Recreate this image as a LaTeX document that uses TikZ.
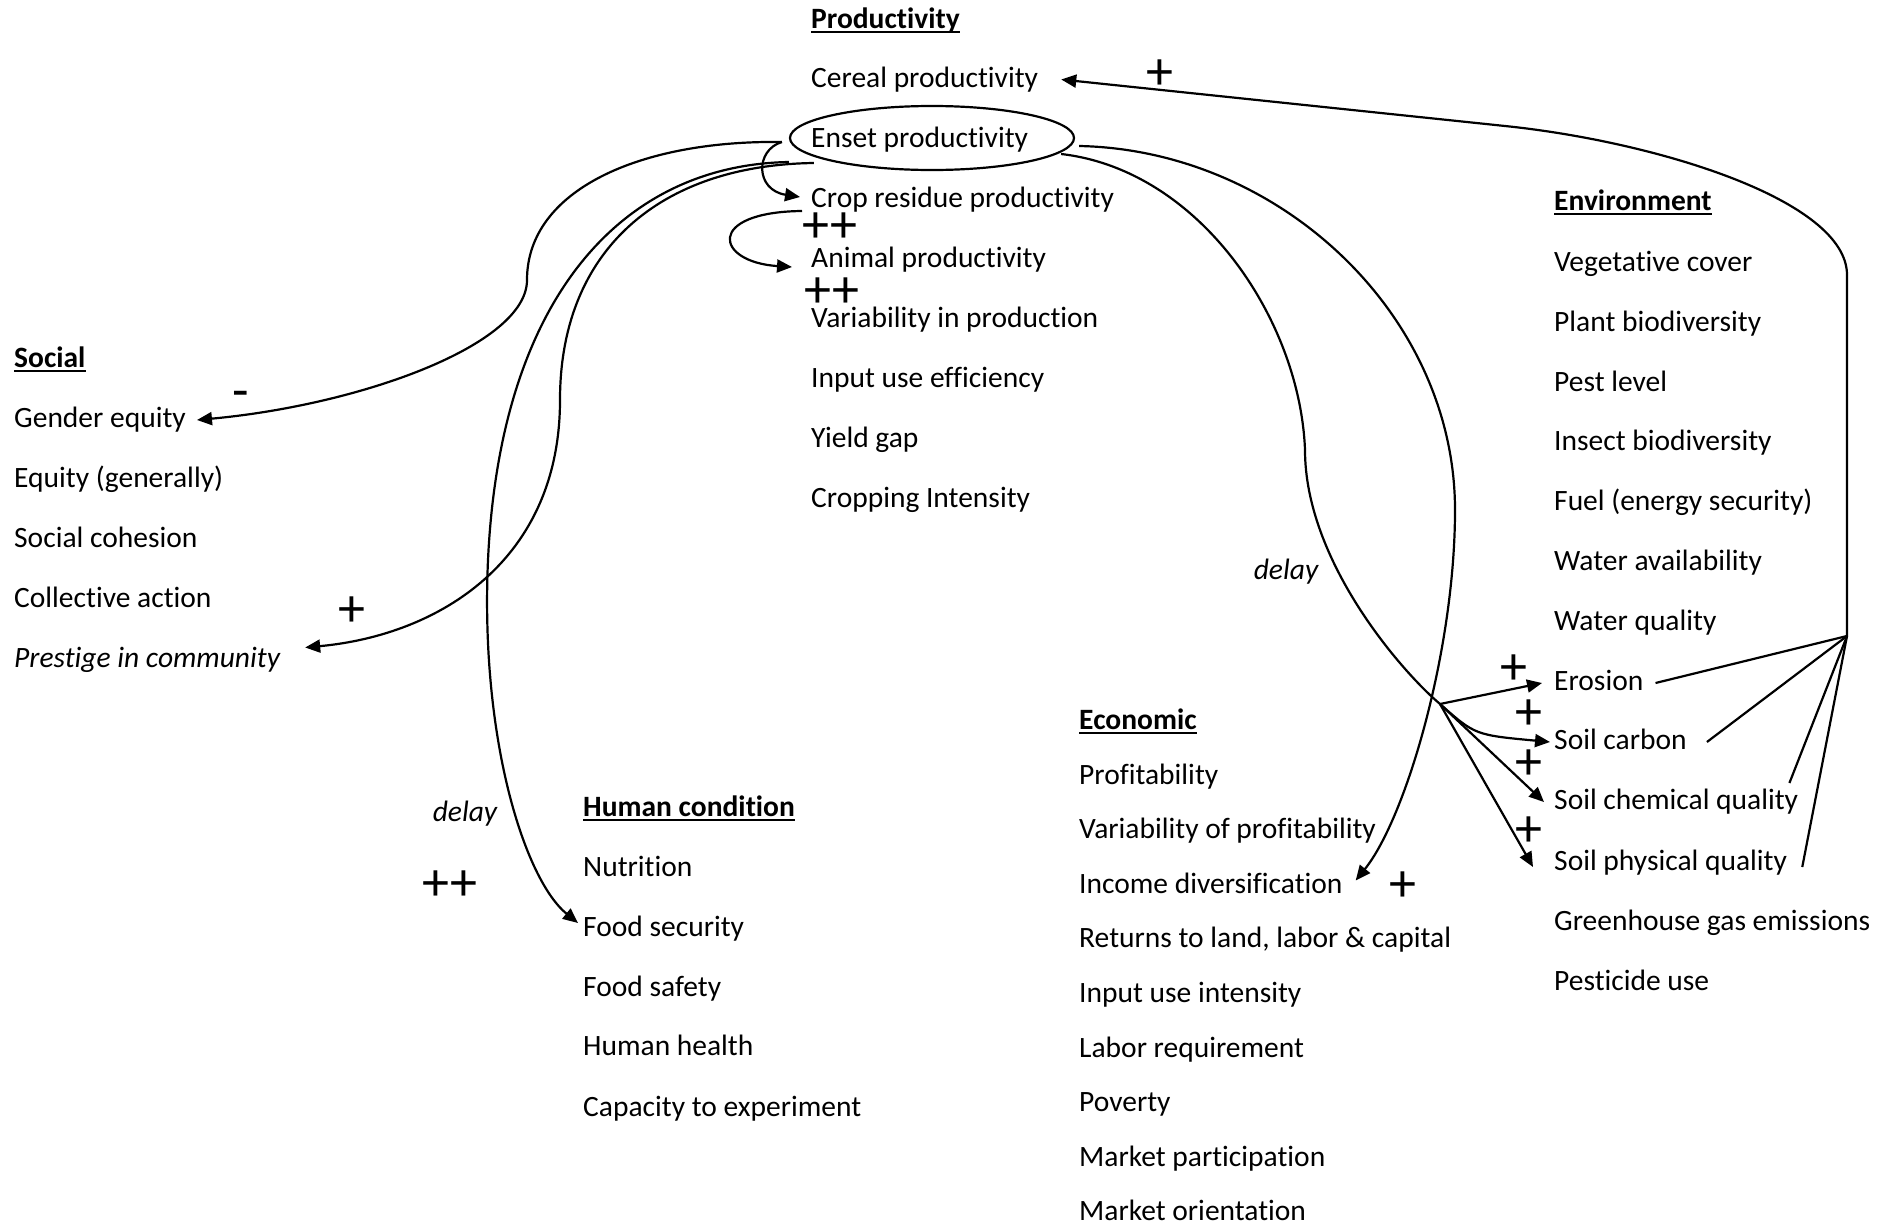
\documentclass[tikz,border=0pt]{standalone}
\usepackage{fontspec}
\setmainfont{Carlito}[Ligatures=NoCommon]
\usetikzlibrary{arrows.meta,shapes.geometric}
\begin{document}
\begin{tikzpicture}[x=1pt,y=-1pt,
  item/.style={anchor=base west, inner sep=0pt, text height=21pt, text depth=6pt, font=\fontsize{29.5}{35}\selectfont},
  hdr/.style={item, font=\fontsize{29.5}{35}\selectfont\bfseries},
  uline/.style={line width=2pt},
  sign/.style={inner sep=0pt, font=\fontsize{54}{54}\selectfont},
  lbl/.style={inner sep=0pt, font=\fontsize{29.5}{35}\selectfont\itshape},
  link/.style={line width=2.2pt},
  arr/.style={link, -{Triangle[length=15pt,width=13pt]}},
  ringshape/.style={ellipse, draw, line width=2.2pt, minimum width=284pt, minimum height=64pt, inner sep=0pt}
]
\fill[white] (0,0) rectangle (1890,1226);
\useasboundingbox (0,0) rectangle (1890,1226);

% ---------- Productivity ----------
\node[hdr] (hprod) at (811,28) {Productivity};
\node[item] (cereal) at (811,87) {Cereal productivity};
\node[item] (enset) at (811,147) {Enset productivity};
\node[item] (crop) at (811,207) {Crop residue productivity};
\node[item] (animal) at (811,267) {Animal productivity};
\node[item] (varprod) at (811,327) {Variability in production};
\node[item] (inpeff) at (811,387) {Input use efficiency};
\node[item] (yieldgap) at (811,447) {Yield gap};
\node[item] (cropint) at (811,507) {Cropping Intensity};
\node[ringshape] (ring) at (932,138) {};

% ---------- Social ----------
\node[hdr] (hsoc) at (14,367.5) {Social};
\node[item] (gender) at (14,427.5) {Gender equity};
\node[item] (equity) at (14,487.5) {Equity (generally)};
\node[item] (cohesion) at (14,547) {Social cohesion};
\node[item] (collect) at (14,607) {Collective action};
\node[item, font=\fontsize{29.5}{35}\selectfont\itshape] (prestige) at (14,667) {Prestige in community};

% ---------- Human condition ----------
\node[hdr] (hhum) at (583,816) {Human condition};
\node[item] (nutrition) at (583,876.5) {Nutrition};
\node[item] (foodsec) at (583,936.5) {Food security};
\node[item] (foodsafe) at (583,996.5) {Food safety};
\node[item] (health) at (583,1055.5) {Human health};
\node[item] (capacity) at (583,1116) {Capacity to experiment};

% ---------- Economic ----------
\node[hdr] (heco) at (1079,729) {Economic};
\node[item] (profit) at (1079,784.5) {Profitability};
\node[item] (varprofit) at (1079,838.5) {Variability of profitability};
\node[item] (incdiv) at (1079,893) {Income diversification};
\node[item] (returns) at (1079,947.5) {Returns to land, labor \& capital};
\node[item] (inpint) at (1079,1002.5) {Input use intensity};
\node[item] (labor) at (1079,1057) {Labor requirement};
\node[item] (poverty) at (1079,1111.5) {Poverty};
\node[item] (marketp) at (1079,1166.5) {Market participation};
\node[item] (marketo) at (1079,1220.5) {Market orientation};

% ---------- Environment ----------
\node[hdr] (henv) at (1554,210.5) {Environment};
\node[item] (veg) at (1554,271) {Vegetative cover};
\node[item] (plantbio) at (1554,331) {Plant biodiversity};
\node[item] (pest) at (1554,391) {Pest level};
\node[item] (insect) at (1554,450.5) {Insect biodiversity};
\node[item] (fuel) at (1554,510.5) {Fuel (energy security)};
\node[item] (wateravail) at (1554,570.5) {Water availability};
\node[item] (waterqual) at (1554,630.5) {Water quality};
\node[item] (erosion) at (1554,690.5) {Erosion};
\node[item] (soilc) at (1554,749.5) {Soil carbon};
\node[item] (soilchem) at (1554,809.5) {Soil chemical quality};
\node[item] (soilphys) at (1554,870) {Soil physical quality};
\node[item] (ghg) at (1554,930.5) {Greenhouse gas emissions};
\node[item] (pesticide) at (1554,990.5) {Pesticide use};

% ---------- underlines ----------
\foreach \h in {hprod,hsoc,hhum,heco,henv}
  \draw[uline] ([yshift=-3.5pt]\h.base west) -- ([yshift=-3.5pt]\h.base east);

% ---------- connectors ----------
\coordinate (hub) at (1847,636);
\coordinate (bend) at (1847,275);
\coordinate (fork) at (1440,704);

\draw[link] ([xshift=12pt]erosion.east) -- (hub);
\draw[link] ([xshift=20pt]soilc.east) -- (hub);
\draw[link] ([xshift=-9pt,yshift=19pt]soilchem.east) -- (hub);
\draw[link] ([xshift=15pt,yshift=-4.5pt]soilphys.east) -- (hub);
\draw[arr] (hub) -- (bend) .. controls (1847,200) and (1655,141.5) .. (1505,126) -- ([xshift=23pt]cereal.east);

\draw[arr] ([xshift=4pt,yshift=-8pt]ring.east) .. controls (1280,150) and (1455,315) .. (1455,510)
  .. controls (1455,650) and (1406,818) .. ([xshift=13pt,yshift=5pt]incdiv.east);

\draw[link] ([xshift=-14pt,yshift=-16pt]ring.east) .. controls (1200,170) and (1300,320) .. (1305,450)
  .. controls (1305,560) and (1400,670) .. (fork);
\draw[arr] (fork) -- ([xshift=-12pt]erosion.west);
\draw[arr] (fork) .. controls (1475,735) .. ([xshift=-4pt]soilc.west);
\draw[arr] (fork) -- ([xshift=-10pt]soilchem.west);
\draw[arr] (fork) -- ([xshift=-21pt,yshift=-4.5pt]soilphys.west);

\draw[arr] ([xshift=-7pt,yshift=-4pt]ring.west) .. controls (640,140) and (527,190) .. (527,280)
  .. controls (527,345) and (360,405) .. ([xshift=11pt]gender.east);
\draw[arr] ([xshift=-7pt,yshift=-4pt]ring.west) .. controls (755,150) and (755,190) .. ([xshift=-11pt,yshift=2.5pt]crop.west);
\draw[arr] ([xshift=-9pt,yshift=-11.5pt]crop.west) .. controls (705,212) and (715,262) .. ([xshift=-19pt,yshift=-7.5pt]animal.west);

\draw[arr] ([yshift=-24pt]ring.west) .. controls (620,165) and (500,300) .. (488,560)
  .. controls (480,740) and (525,880) .. ([xshift=-5pt,yshift=6pt]foodsec.west);
\draw[arr] ([xshift=25pt,yshift=-25pt]ring.west) .. controls (660,165) and (560,250) .. (560,400)
  .. controls (560,560) and (440,635) .. ([xshift=25pt,yshift=12pt]prestige.east);

% ---------- signs and labels ----------
\node[sign] (s1) at (1160,75) {+};
\node[sign] (s2) at (830,228) {++};
\node[sign] (s3) at (832,293) {++};
\node[sign] (s4) at (241,400) {-};
\node[sign] (s5) at (352,612) {+};
\node[sign] (s6) at (450,886) {++};
\node[sign] (s7) at (1403,887) {+};
\node[sign] (s8) at (1514,670) {+};
\node[sign] (s9) at (1529,715) {+};
\node[sign] (s10) at (1529,765) {+};
\node[sign] (s11) at (1529,832) {+};
\node[lbl] (d1) at (1286,572) {delay};
\node[lbl] (d2) at (465,814) {delay};
\end{tikzpicture}
\end{document}
